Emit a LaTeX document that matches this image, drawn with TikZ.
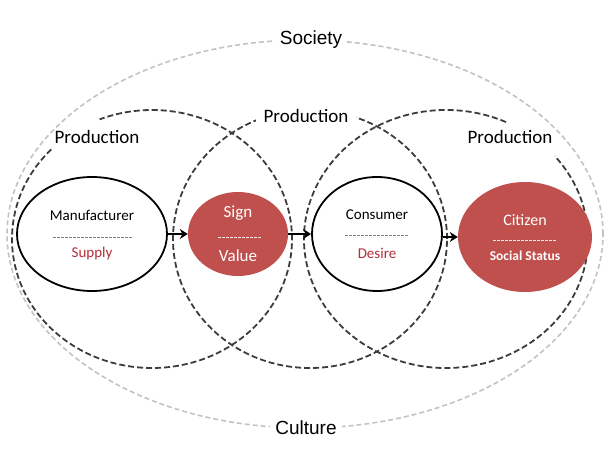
\documentclass[tikz,border=0pt]{standalone}
\usepackage{fontspec}
\setmainfont{Carlito}
\newfontfamily\arialf{Liberation Sans}
\usetikzlibrary{shapes.geometric,arrows.meta}
\definecolor{nodered}{RGB}{192,80,77}
\definecolor{textred}{RGB}{178,48,58}
\definecolor{sgray}{RGB}{195,195,195}
\definecolor{dgray}{RGB}{60,60,60}
\begin{document}
\begin{tikzpicture}[x=1pt,y=1pt,
  societyline/.style={draw=sgray, line width=1.6pt, dash pattern=on 5pt off 3pt},
  prodline/.style={draw=dgray, line width=1.8pt, dash pattern=on 6pt off 3pt},
  outerlabel/.style={font=\arialf\fontsize{19}{22}\selectfont, fill=white, inner xsep=5pt, inner ysep=2pt},
  prodlabel/.style={font=\fontsize{19}{22}\selectfont, inner xsep=8pt, inner ysep=3pt},
  whitenode/.style={ellipse, draw=black, line width=1.8pt, fill=white, inner sep=0pt},
  rednode/.style={ellipse, fill=nodered, inner sep=0pt},
  txt/.style={font=\fontsize{15}{18}\selectfont, inner sep=0pt},
  sepblack/.style={draw=gray, line width=0.8pt, dash pattern=on 3pt off 1pt},
  sepwhite/.style={draw=white!85!nodered, line width=0.8pt, dash pattern=on 3pt off 1pt},
  arr/.style={draw=black, line width=2.2pt, -{Stealth[length=8pt,width=10pt]}}
]
\useasboundingbox (0,0) rectangle (613,450);
% outer society / culture ellipse
\draw[societyline] (305,216) ellipse [x radius=298, y radius=194];
\node[outerlabel] (soc) at (311,410) {Society};
\node[outerlabel] (cul) at (306,22) {Culture};
% production ellipses
\draw[prodline] (152,211) ++(136:140 and 129) arc[start angle=136, end angle=472, x radius=140, y radius=129];
\draw[prodline] (310,211) ellipse [x radius=137, y radius=129];
\draw[prodline] (446,211) ++(65:142 and 129) arc[start angle=65, end angle=400, x radius=142, y radius=129];
\node[prodlabel] (pl) at (97,313) {Production};
\node[prodlabel, fill=white] (pm) at (306,334) {Production};
\node[prodlabel] (pr) at (510,313) {Production};
% main nodes
\node[whitenode, minimum width=150pt, minimum height=114pt] (man) at (92,216) {};
\node[rednode, minimum width=100pt, minimum height=84pt] (sign) at (238,216) {};
\node[whitenode, minimum width=130pt, minimum height=114pt] (cons) at (377,216) {};
\node[rednode, minimum width=134pt, minimum height=110pt] (cit) at (525,213) {};
% texts
\node[txt] (mant) at (92,235) {Manufacturer};
\draw[sepblack] (53,213) -- (133,213);
\node[txt, text=textred] (supt) at (92,196) {Supply};
\node[txt, text=white, font=\fontsize{17}{20}\selectfont] (signt) at (238,237) {Sign};
\draw[sepwhite] (218,213) -- (262,213);
\node[txt, text=white, font=\fontsize{17}{20}\selectfont] (valt) at (238,194) {Value};
\node[txt] (const) at (377,235) {Consumer};
\draw[sepblack] (345,215) -- (408,215);
\node[txt, text=textred] (dest) at (377,197) {Desire};
\node[txt, text=white, font=\fontsize{16}{19}\selectfont] (citt) at (525,230) {Citizen};
\draw[sepwhite] (493,210) -- (556,210);
\node[txt, text=white, font=\bfseries\fontsize{13.5}{16}\selectfont] (sst) at (525,194) {Social Status};
% arrows
\draw[arr] (man) -- (sign);
\draw[arr] (sign) -- (cons);
\draw[arr] (cons.east |- cit.west) -- (cit.west);
\end{tikzpicture}
\end{document}
